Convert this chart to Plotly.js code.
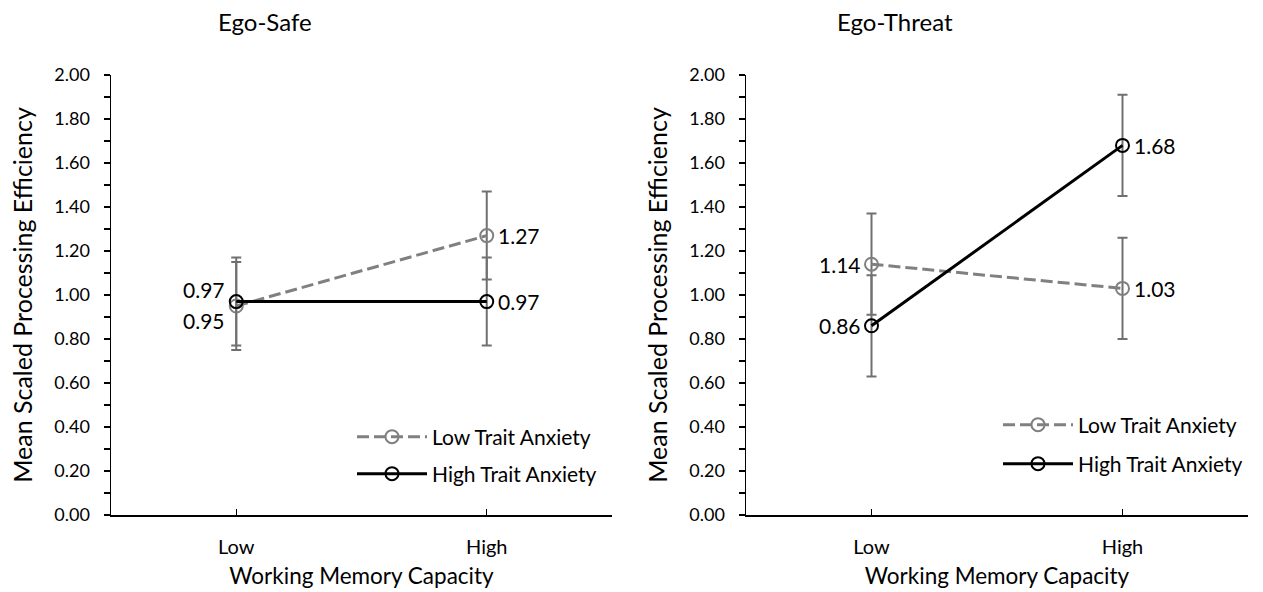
<!DOCTYPE html>
<html>
<head>
<meta charset="utf-8">
<script src="https://cdn.plot.ly/plotly-3.0.1.min.js"></script>
<style>
  html, body { margin: 0; padding: 0; background: #fff; }
  #chart { width: 1263px; height: 592px; }
</style>
</head>
<body>
<div id="chart"></div>
<script>
// Working memory capacity groups on the x axis
const categories = ['Low', 'High'];

// Ego-Safe condition: means and error half-widths
const safeLowTrait = [0.95, 1.27];
const safeLowTraitErr = [0.20, 0.20];
const safeHighTrait = [0.97, 0.97];
const safeHighTraitErr = [0.20, 0.20];

// Ego-Threat condition: means and error half-widths
const threatLowTrait = [1.14, 1.03];
const threatLowTraitErr = [0.23, 0.23];
const threatHighTrait = [0.86, 1.68];
const threatHighTraitErr = [0.23, 0.23];

const panelTitles = ['Ego-Safe', 'Ego-Threat'];
const seriesNames = ['Low Trait Anxiety', 'High Trait Anxiety'];
const xTitle = 'Working Memory Capacity';
const yTitle = 'Mean Scaled Processing Efficiency';

const FONT = 'Lato, "Open Sans", sans-serif';
const GRAY = '#808080';
const ERR = '#707070';
const xs = categories.map((c, i) => i);

function series(xa, ya, vals, errs, name, color, dash, legendId) {
  return {
    type: 'scatter', mode: 'lines+markers',
    x: xs, y: vals, xaxis: xa, yaxis: ya,
    name: name, legend: legendId,
    line: { color: color, width: 3, dash: dash },
    marker: { symbol: 'circle-open', size: 13, color: color, line: { width: 2, color: color } },
    error_y: { type: 'data', array: errs, visible: true, color: ERR, thickness: 2, width: 5 },
    hoverinfo: 'skip'
  };
}

const traces = [
  series('x', 'y', safeLowTrait, safeLowTraitErr, seriesNames[0], GRAY, '12px,5px', 'legend'),
  series('x', 'y', safeHighTrait, safeHighTraitErr, seriesNames[1], '#000', 'solid', 'legend2'),
  series('x2', 'y2', threatLowTrait, threatLowTraitErr, seriesNames[0], GRAY, '12px,5px', 'legend3'),
  series('x2', 'y2', threatHighTrait, threatHighTraitErr, seriesNames[1], '#000', 'solid', 'legend4')
];

// Value labels next to each point
function label(xa, ya, i, v, side, yshift) {
  return {
    xref: xa, yref: ya, x: xs[i], y: v,
    text: v.toFixed(2), showarrow: false,
    xanchor: side === 'left' ? 'right' : 'left',
    xshift: side === 'left' ? -9 : 9, yshift: yshift || 0,
    font: { family: FONT, size: 21, color: '#000' }
  };
}

const annotations = [
  label('x', 'y', 0, safeHighTrait[0], 'left', 12),
  label('x', 'y', 0, safeLowTrait[0], 'left', -14),
  label('x', 'y', 1, safeLowTrait[1], 'right', 0),
  label('x', 'y', 1, safeHighTrait[1], 'right', 0),
  label('x2', 'y2', 0, threatLowTrait[0], 'left', 0),
  label('x2', 'y2', 0, threatHighTrait[0], 'left', 0),
  label('x2', 'y2', 1, threatHighTrait[1], 'right', 0),
  label('x2', 'y2', 1, threatLowTrait[1], 'right', 0),
  { xref: 'paper', yref: 'paper', x: 265 / 1263, y: 1 - 21 / 592, text: panelTitles[0], showarrow: false,
    xanchor: 'center', yanchor: 'middle', font: { family: FONT, size: 24, color: '#000' } },
  { xref: 'paper', yref: 'paper', x: 895 / 1263, y: 1 - 21 / 592, text: panelTitles[1], showarrow: false,
    xanchor: 'center', yanchor: 'middle', font: { family: FONT, size: 24, color: '#000' } }
];

function yAxis(anchor) {
  return {
    anchor: anchor, domain: [77 / 592, 517 / 592], range: [0, 2],
    dtick: 0.2, tick0: 0, tickformat: '.2f',
    ticks: 'outside', ticklen: 6, tickwidth: 1.3, tickcolor: '#000',
    ticklabelstandoff: 10,
    minor: { dtick: 0.1, ticks: 'outside', ticklen: 6, tickwidth: 1.3, tickcolor: '#000' },
    showline: true, linecolor: '#000', linewidth: 1.5,
    showgrid: false, zeroline: false, fixedrange: true,
    tickfont: { family: FONT, size: 18, color: '#000' },
    title: { text: yTitle, font: { family: FONT, size: 25, color: '#000' }, standoff: 14 }
  };
}

function xAxis(anchor, domain) {
  return {
    anchor: anchor, domain: domain, range: [-0.5, 1.5],
    tickvals: [0, 1, 1.5], ticktext: categories.concat(['']),
    ticks: 'inside', ticklen: 6, tickwidth: 1.3, tickcolor: '#000',
    ticklabelstandoff: 13,
    showline: true, linecolor: '#000', linewidth: 1.5,
    showgrid: false, zeroline: false, fixedrange: true,
    tickfont: { family: FONT, size: 20, color: '#000' },
    title: { text: xTitle, font: { family: FONT, size: 22.5, color: '#000' }, standoff: 11 }
  };
}

function legendAt(x, yMid) {
  return {
    x: x / 1263, y: 1 - yMid / 592, xanchor: 'left', yanchor: 'middle',
    bgcolor: 'rgba(0,0,0,0)', borderwidth: 0, itemwidth: 70,
    font: { family: FONT, size: 21, color: '#000' }
  };
}

const layout = {
  width: 1263, height: 592,
  margin: { l: 0, r: 0, t: 0, b: 0 },
  paper_bgcolor: '#fff', plot_bgcolor: '#fff',
  showlegend: true,
  xaxis: xAxis('y', [111 / 1263, 612 / 1263]),
  yaxis: yAxis('x'),
  xaxis2: xAxis('y2', [746 / 1263, 1248 / 1263]),
  yaxis2: yAxis('x2'),
  legend: legendAt(352, 437),
  legend2: legendAt(352, 474),
  legend3: legendAt(998, 425),
  legend4: legendAt(998, 464),
  annotations: annotations
};

Plotly.newPlot('chart', traces, layout, { displayModeBar: false, staticPlot: true });
</script>
</body>
</html>
